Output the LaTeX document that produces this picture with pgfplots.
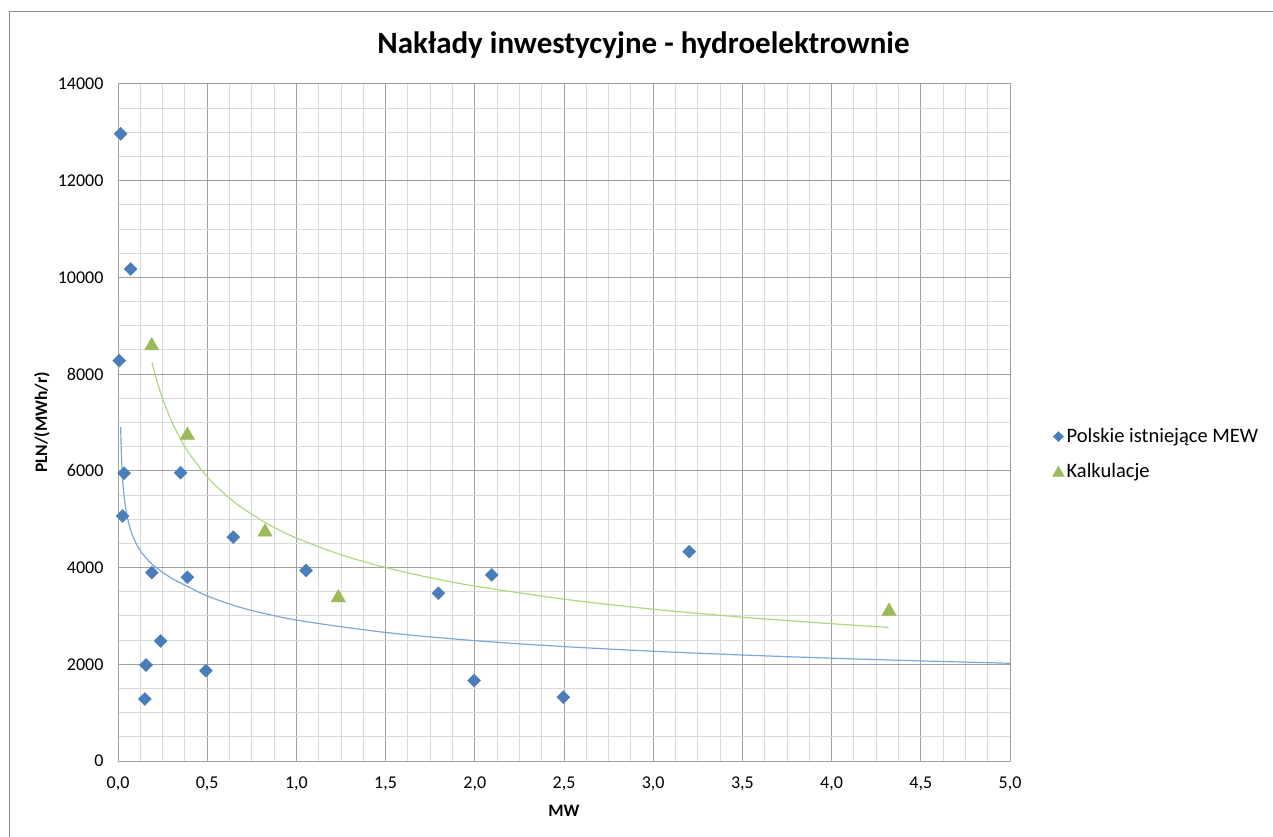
\documentclass[border=0pt]{standalone}
\usepackage{pgfplots}
\pgfplotsset{compat=1.18}
\usepackage{fontspec}
\setmainfont{Carlito}
\definecolor{exblue}{HTML}{4A7EBB}
\definecolor{exgreen}{HTML}{9BBB59}
\definecolor{trblue}{HTML}{7FA6D8}
\definecolor{trgreen}{HTML}{AED77F}
\definecolor{majgrid}{HTML}{A0A0A0}
\definecolor{mingrid}{HTML}{D9D9D9}
\definecolor{framec}{HTML}{8C8C8C}

\begin{document}
\begin{tikzpicture}[x=1pt,y=1pt]
\useasboundingbox (0,0) rectangle (1273,836);
\draw[framec, line width=1pt] (9,824) rectangle (1300,-30);
\node[font=\fontsize{31}{37}\selectfont\bfseries] at (643.5,791) {Nakłady inwestycyjne - hydroelektrownie};
\begin{axis}[
  at={(118pt,75pt)}, anchor=south west,
  scale only axis, width=892pt, height=677pt,
  xmin=0, xmax=5, ymin=0, ymax=14000,
  xtick={0,0.5,1,1.5,2,2.5,3,3.5,4,4.5,5},
  ytick={0,2000,4000,6000,8000,10000,12000,14000},
  minor x tick num=3, minor y tick num=3,
  grid=both,
  major grid style={draw=majgrid, line width=1pt},
  minor grid style={draw=mingrid, line width=1pt},
  axis line style={draw=majgrid, line width=1pt},
  tick style={draw=none},
  /pgf/number format/assume math mode=true,
  x tick label style={font=\fontsize{18}{21}\selectfont, yshift=-12pt,
    /pgf/number format/fixed, /pgf/number format/fixed zerofill,
    /pgf/number format/precision=1, /pgf/number format/use comma},
  y tick label style={font=\fontsize{18}{21}\selectfont, xshift=-11pt,
    /pgf/number format/fixed, /pgf/number format/1000 sep={}},
  scaled ticks=false,
  xlabel={MW},
  xlabel style={at={(axis description cs:0.5,-0.0739)}, anchor=center,
    font=\bfseries\fontsize{17.5}{21}\selectfont},
  ylabel={PLN/(MWh/r)},
  ylabel style={at={(axis description cs:-0.0852,0.5)}, anchor=center,
    font=\bfseries\fontsize{17.5}{21}\selectfont},
  legend style={at={(axis description cs:1.0460,0.4535)}, anchor=west,
    draw=none, fill=none, font=\fontsize{20.5}{24}\selectfont,
    row sep=15pt, inner sep=1pt},
  legend cell align=left,
  legend image code/.code={\path (-6pt,0pt) (6pt,0pt); \draw[#1] plot coordinates {(0pt,0pt)};},
]
\addlegendimage{only marks, mark=square*, mark size=3.6pt, mark options={rotate=45}, color=exblue}
\addlegendentry{Polskie istniejące MEW}
\addlegendimage{only marks, mark=triangle*, mark size=6.8pt, color=exgreen, mark options={yshift=-1.7pt}}
\addlegendentry{Kalkulacje}

% trendline (blue)
\addplot[forget plot, trblue, line width=1.2pt, smooth, no marks] coordinates {
(0.015,6910) (0.018,6450) (0.021,6150) (0.025,5880) (0.03,5620) (0.04,5300)
(0.05,5080) (0.065,4850) (0.08,4680) (0.1,4510) (0.12,4380) (0.15,4230)
(0.2,4040) (0.3,3780) (0.4,3591) (0.5,3413) (0.7,3162) (1.0,2915)
(1.5,2658) (2.0,2489) (2.5,2366) (3.0,2270) (3.5,2192) (4.0,2126)
(4.5,2070) (5.0,2021)
};
% trendline (green)
\addplot[forget plot, trgreen, line width=1.2pt, smooth, no marks] coordinates {
(0.19,8245) (0.22,7834) (0.25,7491) (0.3,7028) (0.35,6659) (0.4,6354)
(0.5,5877) (0.6,5514) (0.7,5224) (0.85,4881) (1.0,4611) (1.25,4265)
(1.5,4001) (1.75,3791) (2.0,3618) (2.5,3346) (3.0,3139) (3.5,2974)
(4.0,2839) (4.32,2763)
};

\addplot[forget plot, only marks, mark=square*, mark size=4.6pt, mark options={rotate=45}, color=exblue] coordinates {
(0.015,12970) (0.071,10175) (0.007,8280) (0.034,5950) (0.026,5066)
(0.189,3895) (0.389,3800) (0.351,5962) (0.646,4630) (0.239,2481)
(0.157,1985) (0.151,1282) (0.493,1867) (1.054,3940) (1.796,3470)
(2.095,3850) (1.996,1665) (2.496,1320) (3.202,4330)
};
\addplot[forget plot, only marks, mark=triangle*, mark size=8.3pt, color=exgreen, mark options={yshift=-2.1pt}] coordinates {
(0.189,8630) (0.389,6780) (0.824,4780) (1.235,3420) (4.322,3140)
};
\end{axis}
\end{tikzpicture}
\end{document}
